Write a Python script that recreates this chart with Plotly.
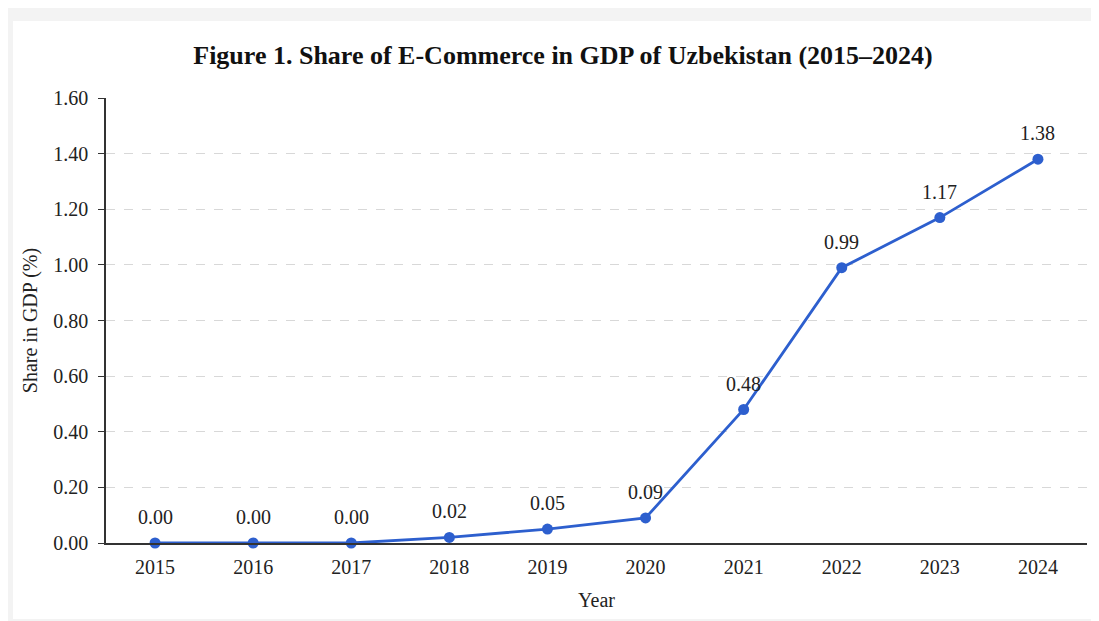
import plotly.graph_objects as go

years = ["2015", "2016", "2017", "2018", "2019", "2020", "2021", "2022", "2023", "2024"]
share = [0.00, 0.00, 0.00, 0.02, 0.05, 0.09, 0.48, 0.99, 1.17, 1.38]
y_ticks = [0.0, 0.2, 0.4, 0.6, 0.8, 1.0, 1.2, 1.4, 1.6]

# page is drawn with an 8px body margin; work in window coordinates
OFF = 8
W, H = 1099 - OFF, 621 - OFF
L, T = 106 - OFF, 98 - OFF
R = W - (1087 - OFF)
B = H - (543 - OFF)
pw, ph = W - L - R, H - T - B

def px(x):
    return (x - OFF - L) / pw

def py(y):
    return (H - B - (y - OFF)) / ph

font = "Liberation Serif, Times New Roman, serif"
blue = "#2d5fce"

fig = go.Figure()
fig.add_trace(go.Scatter(
    x=years, y=share, mode="lines+markers",
    line=dict(color=blue, width=2.8),
    marker=dict(color=blue, size=11),
    cliponaxis=False,
    showlegend=False,
))

for i, v in enumerate(share):
    fig.add_annotation(x=i, y=v, text=f"{v:.2f}", showarrow=False,
                       yanchor="middle", yshift=26,
                       font=dict(family=font, size=20, color="#222"))

fig.add_shape(type="rect", xref="paper", yref="paper",
              x0=px(13), x1=px(1095), y0=py(619), y1=py(21),
              fillcolor="white", line=dict(width=0), layer="below")

fig.update_layout(
    width=W, height=H,
    margin=dict(l=L, r=R, t=T, b=B),
    paper_bgcolor="#f3f3f3",
    plot_bgcolor="rgba(0,0,0,0)",
    font=dict(family=font, color="#222"),
    title=dict(text="<b>Figure 1. Share of E-Commerce in GDP of Uzbekistan (2015–2024)</b>",
               xref="container", x=(563 - OFF) / W, xanchor="center",
               yref="container", y=1 - (55 - OFF) / H, yanchor="middle",
               font=dict(family=font, size=26, color="#111")),
)
fig.update_xaxes(
    type="category", range=[-0.5, 9.5],
    showline=True, linecolor="#333", linewidth=1.5,
    showgrid=False, ticks="", ticklabelstandoff=5,
    tickfont=dict(family=font, size=20, color="#222"),
    title=dict(text="Year", font=dict(family=font, size=20, color="#222"), standoff=16),
)
fig.update_yaxes(
    range=[0, 1.6], tickvals=y_ticks,
    ticktext=[f"{v:.2f}" for v in y_ticks],
    showline=True, linecolor="#333", linewidth=1.5,
    ticks="outside", ticklen=6, tickcolor="#333", ticklabelstandoff=6,
    showgrid=True, gridcolor="#d8d8d8", griddash="dash", gridwidth=1,
    zeroline=False,
    tickfont=dict(family=font, size=20, color="#222"),
    title=dict(text="Share in GDP (%)", font=dict(family=font, size=20, color="#222"), standoff=10),
)

fig.write_html("out.html")
